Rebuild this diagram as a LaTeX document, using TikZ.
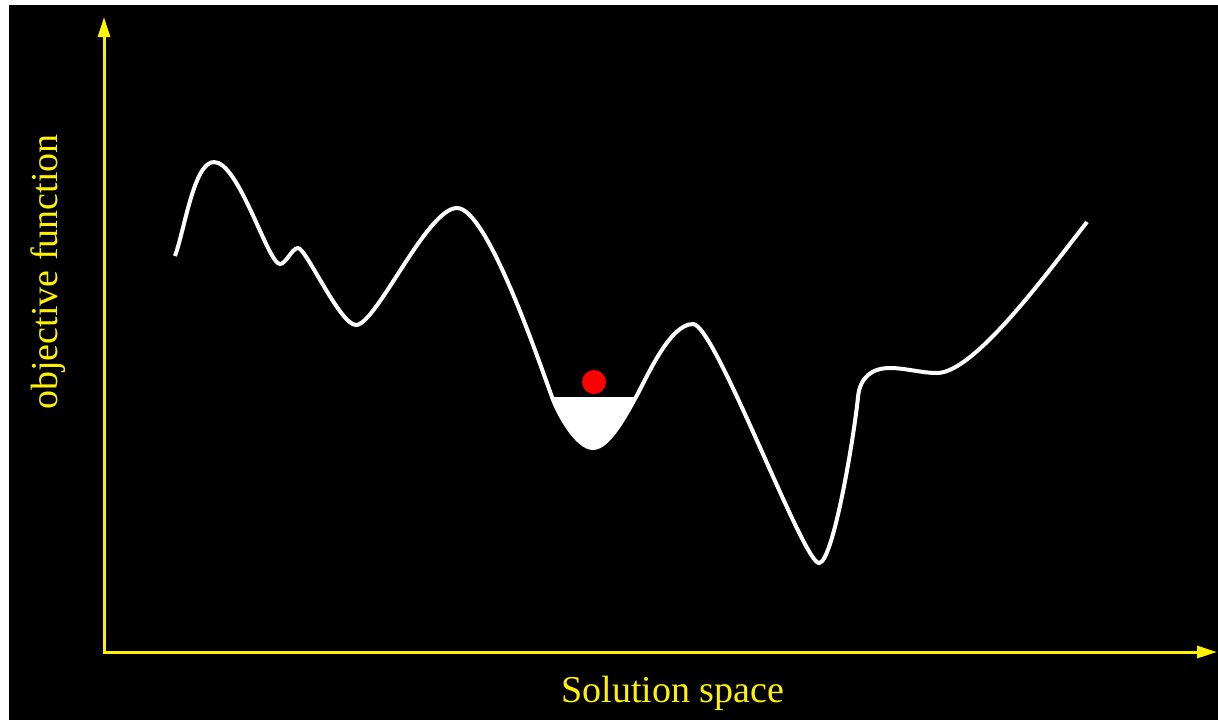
\documentclass[tikz,border=0pt]{standalone}
\usepackage{fontspec}
\setmainfont{Liberation Serif}
\usetikzlibrary{arrows.meta}

\begin{document}
\begin{tikzpicture}[
  x=0.5pt, y=-0.5pt,
  axis/.style={yellow, line width=1.5pt,
               {Triangle[length=10pt,width=6pt]}-{Triangle[length=10pt,width=6pt]}},
  lbl/.style={text=yellow, font=\fontsize{19}{22}\selectfont, inner sep=0pt},
  landscape/.style={white, line width=2pt},
  ball/.style={circle, fill=red, minimum size=12pt, inner sep=0pt},
]

%% ---- background ----
\useasboundingbox (0,0) rectangle (1218,720);
\fill[white] (0,0) rectangle (1218,720);
\fill[black] (9,5) rectangle (1218,720);

%% ---- axes ----
\coordinate (origin) at (104,652);
\coordinate (ytip)   at (104,17);
\coordinate (xtip)   at (1217,652);
\draw[axis] (ytip) |- (xtip);

\node[lbl, anchor=base] (xlabel) at (673,702) {Solution space};
\node[lbl, rotate=90]   (ylabel) at (48,272)  {objective function};

%% ---- local minimum basin ----
\coordinate (bl) at (552,397);
\coordinate (bm) at (593,448);
\coordinate (br) at (636,397);
\fill[white] (bl) .. controls (558,414) and (577,448) .. (bm)
                  .. controls (609,448) and (627,413) .. (br) -- cycle;

%% ---- objective landscape ----
\draw[landscape] (175,256)
  .. controls (185,228) and (194,162) .. (214,162)
  .. controls (239,162) and (268,264) .. (280,264)
  .. controls (286,264) and (292,248) .. (298,248)
  .. controls (306,248) and (340,325) .. (356,325)
  .. controls (376,325) and (427,208) .. (457,208)
  .. controls (487,208) and (538,359) .. (bl)
  .. controls (558,414) and (577,448) .. (bm)
  .. controls (609,448) and (627,413) .. (br)
  .. controls (648,375) and (670,324) .. (693,324)
  .. controls (715,324) and (803,563) .. (819,563)
  .. controls (833,563) and (854,437) .. (858,397)
  .. controls (860,377) and (872,368) .. (890,368)
  .. controls (905,368) and (922,373) .. (937,373)
  .. controls (975,373) and (1050,269) .. (1087,222);

\node[ball] (ball) at (594,382) {};

\end{tikzpicture}
\end{document}
